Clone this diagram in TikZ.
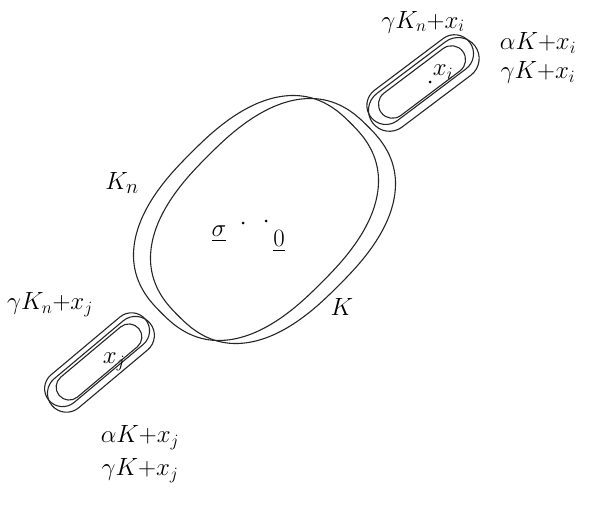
\documentclass[tikz,border=0pt]{standalone}
\usepackage{amsmath}
\usepackage{tikz}
\usetikzlibrary{positioning}

\begin{document}
\begin{tikzpicture}[
    x=1pt, y=-1pt,
    node distance=6pt and 0pt,
    font=\fontsize{28}{30}\selectfont,
    % Styles
    outline/.style={
      draw=black!85,
      line width=1.1pt
    },
    biglabel/.style={
      font=\fontsize{32}{34}\selectfont,
      inner sep=0pt
    },
    setlabel/.style={
      font=\fontsize{26}{28}\selectfont,
      inner sep=0pt
    },
    point/.style={
      circle,
      fill=black,
      inner sep=0pt,
      minimum size=3pt
    }
  ]

    \useasboundingbox (0,0) rectangle (592,506);

    % Big sets K_n (left) and K (shifted right and down), rounded ovals
    \draw [outline, shift={(256,218)}, rotate=45] plot [domain=2.5:357.5, samples=72, smooth cycle]
      ({134*sign(cos(\x))*pow(abs(cos(\x)),0.8)}, {92*sign(sin(\x))*pow(abs(sin(\x)),0.8)});
    \draw [outline, shift={(273,221)}, rotate=45] plot [domain=2.5:357.5, samples=72, smooth cycle]
      ({134*sign(cos(\x))*pow(abs(cos(\x)),0.8)}, {92*sign(sin(\x))*pow(abs(sin(\x)),0.8)});

    % Small sets round x_i
    \draw [outline, shift={(422,82)}, rotate=37, rounded corners=14pt] (-51,-14) rectangle (51,14);
    \draw [outline, shift={(422,82)}, rotate=37, rounded corners=19pt] (-62,-22) rectangle (62,16);
    \draw [outline, shift={(422,82)}, rotate=37, rounded corners=21pt] (-64,-18) rectangle (64,24);

    % Small sets round x_j
    \draw [outline, shift={(99,362)}, rotate=40, rounded corners=13pt] (-52,-13) rectangle (52,13);
    \draw [outline, shift={(99,362)}, rotate=40, rounded corners=18pt] (-63,-21) rectangle (63,15);
    \draw [outline, shift={(99,362)}, rotate=40, rounded corners=19pt] (-64,-16) rectangle (64,22);

    % Points
    \node (sigmadot) [point] at (243,223) {};
    \node (zerodot) [point] at (266,221) {};
    \node (xidot) [point] at (430,82) {};

    % Labels
    \node (knlabel) [biglabel] at (122,183) {$K_n$};
    \node (klabel) [biglabel] at (342,307) {$K$};
    \node (sigma) [setlabel] at (219,234) {$\underline{\sigma}$};
    \node (zero) [setlabel] at (279,241) {$\underline{0}$};
    \node (xi) [setlabel] at (443,72) {$x_i$};
    \node (xj) [setlabel] at (114,362) {$x_j$};

    \node (gknxi) [setlabel] at (423,22) {$\gamma K_n{+}x_i$};
    \node (akxi) [setlabel] at (538,43) {$\alpha K{+}x_i$};
    \node (gkxi) [setlabel, below=8pt of akxi.south, anchor=north] {$\gamma K{+}x_i$};

    \node (gknxj) [setlabel] at (50,305) {$\gamma K_n{+}x_j$};
    \node (akxj) [setlabel] at (140,438) {$\alpha K{+}x_j$};
    \node (gkxj) [setlabel, below=8pt of akxj.south, anchor=north] {$\gamma K{+}x_j$};

  \end{tikzpicture}
\end{document}
